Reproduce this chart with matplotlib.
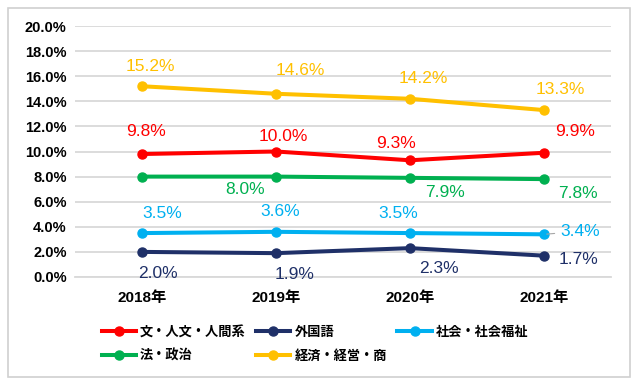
import matplotlib.pyplot as plt
from matplotlib.patches import Rectangle
from matplotlib.ticker import FuncFormatter

plt.rcParams['font.family'] = ['Liberation Sans', 'Noto Sans CJK JP', 'DejaVu Sans']

years = ['2018年', '2019年', '2020年', '2021年']
series_names = ['文・人文・人間系', '外国語', '社会・社会福祉', '法・政治', '経済・経営・商']
bun = [9.8, 10.0, 9.3, 9.9]
gaikoku = [2.0, 1.9, 2.3, 1.7]
shakai = [3.5, 3.6, 3.5, 3.4]
hou = [8.0, 8.0, 7.9, 7.8]
keizai = [15.2, 14.6, 14.2, 13.3]
colors = ['#FF0000', '#1F3068', '#00B0F0', '#00B050', '#FFC000']

# label offsets in pixels (None = no label shown)
offsets = [
    [(4, 23), (7, 15), (-14, 17), (31, 21)],
    [(16, -22), (19, -21), (29, -20), (34, -4)],
    [(20, 20), (4, 20), (-12, 20), (36, 3)],
    [None, (-31, -13), (35, -15), (34, -14)],
    [(8, 20), (24, 23), (13, 20), (16, 21)],
]

fig = plt.figure(figsize=(6.4, 3.84), dpi=100)
ax = fig.add_axes([75 / 640, 1 - 277 / 384, 536 / 640, 251 / 384])

x = list(range(len(years)))
handles = []
for vals, name, c, offs in zip([bun, gaikoku, shakai, hou, keizai], series_names, colors, offsets):
    h, = ax.plot(x, vals, color=c, lw=2.9, marker='o', ms=6.5, label=name, zorder=3)
    handles.append(h)
    for xi, v, o in zip(x, vals, offs):
        if o is None:
            continue
        lead = dict(arrowstyle='-', color='#a6a6a6', lw=0.8) if (name == '社会・社会福祉' and xi == 3) else None
        ax.annotate(f'{v:.1f}%', (xi, v), xytext=o, textcoords='offset pixels',
                    ha='center', va='center', color=c, fontsize=12.5,
                    arrowprops=lead)

ax.set_xlim(-0.5, 3.5)
ax.set_ylim(0, 20)
ax.set_yticks(range(0, 21, 2))
ax.yaxis.set_major_formatter(FuncFormatter(lambda v, p: f'{v:.1f}%'))
ax.set_xticks(x)
ax.set_xticklabels(years, fontsize=11, fontweight='bold')
for t in ax.get_yticklabels():
    t.set_fontsize(10.5)
    t.set_fontweight('bold')
ax.tick_params(length=0, pad=6)
ax.tick_params(axis='x', pad=10)
ax.grid(axis='y', color='#d9d9d9', lw=1.3)
ax.set_axisbelow(True)
for s in ['top', 'right', 'left']:
    ax.spines[s].set_visible(False)
ax.spines['bottom'].set_color('#d9d9d9')
ax.spines['bottom'].set_linewidth(1.3)

order = [0, 3, 1, 4, 2]
fig.legend([handles[i] for i in order], [series_names[i] for i in order],
           ncol=3, loc='upper left', bbox_to_anchor=(95 / 640, 1 - 318 / 384),
           frameon=False, borderpad=0, handlelength=2.6, handletextpad=0.3,
           columnspacing=0.8, labelspacing=0.75,
           prop={'family': ['Noto Sans CJK JP'], 'weight': 'bold', 'size': 9.5})

fig.patches.append(Rectangle((8 / 640, 7 / 384), 622 / 640, 369 / 384, transform=fig.transFigure,
                             fill=False, edgecolor='#d0d0d0', lw=1.2))

fig.savefig('out.png', dpi=100)
